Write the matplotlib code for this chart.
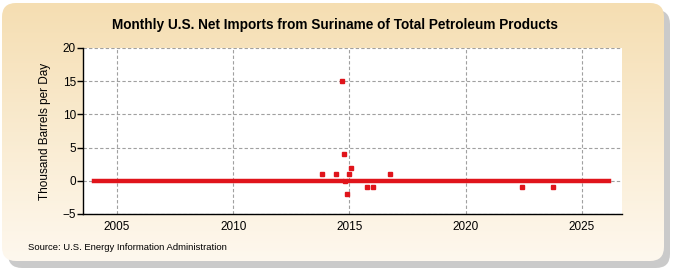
import numpy as np
import pandas as pd
import matplotlib
matplotlib.use("Agg")
import matplotlib.pyplot as plt
from matplotlib.patches import FancyBboxPatch

# ── DATA ────────────────────────────────────────────────────────────────
start_month = "2004-01"
end_month = "2026-03"
# months that differ from zero (thousand barrels per day)
spike_months = ["2013-11", "2014-06", "2014-09", "2014-10", "2014-12", "2015-01",
                "2015-02", "2015-10", "2016-01", "2016-10", "2022-06", "2023-10"]
spike_values = [1, 1, 15, 4, -2, 1, 2, -1, -1, 1, -1, -1]
# the zero line is broken over these months in the source chart
line_gap_months = ["2014-10", "2014-11", "2014-12"]
# isolated zero reading shown as a single marker
lone_zero_months = ["2014-11"]

x_ticks = [2005, 2010, 2015, 2020, 2025]
y_ticks = [-5, 0, 5, 10, 15, 20]

title = "Monthly U.S. Net Imports from Suriname of Total Petroleum Products"
ylabel = "Thousand Barrels per Day"
source = "Source: U.S. Energy Information Administration"
# ────────────────────────────────────────────────────────────────────────

months = pd.date_range(start_month, end_month, freq="MS")
values = pd.Series(0.0, index=months)
values[pd.to_datetime(spike_months)] = spike_values
xdec = np.asarray(months.year + (months.month - 1) / 12.0)

line_vals = pd.Series(0.0, index=months)
line_vals[pd.to_datetime(line_gap_months)] = np.nan

marked = months.isin(pd.to_datetime(spike_months)) | months.isin(pd.to_datetime(lone_zero_months))

plt.rcParams["font.family"] = ["Liberation Sans", "DejaVu Sans"]

RED = "#e0141b"
fig = plt.figure(figsize=(6.75, 2.75), dpi=100)

# background panel with shadow and gradient
bg = fig.add_axes([0, 0, 1, 1], zorder=-10)
bg.set_xlim(0, 675)
bg.set_ylim(275, 0)
bg.axis("off")
shadow = FancyBboxPatch((8, 10), 662, 258, boxstyle="round,pad=0,rounding_size=14",
                        fc="#a8a8a8", ec="none", alpha=0.6)
bg.add_patch(shadow)
panel = FancyBboxPatch((2, 3), 662, 258, boxstyle="round,pad=0,rounding_size=14",
                       fc="none", ec="none")
bg.add_patch(panel)
grad = np.linspace(0, 1, 256).reshape(-1, 1)
top_c = np.array([245, 222, 178]) / 255
bot_c = np.array([254, 248, 238]) / 255
img = top_c[None, None, :] * (1 - grad[:, :, None]) + bot_c[None, None, :] * grad[:, :, None]
im = bg.imshow(img, extent=[2, 664, 261, 3], aspect="auto", zorder=1)
im.set_clip_path(panel)

ax = fig.add_axes([83 / 675, 1 - 214 / 275, (622 - 83) / 675, (214 - 48) / 275])
ax.set_facecolor("white")

ax.plot(xdec, line_vals.values, color=RED, lw=3.2, solid_capstyle="projecting", zorder=3)
ax.plot(xdec[marked], values.values[marked], ls="none", marker="s", ms=3.4,
        color=RED, mec=RED, zorder=4)

ax.set_xlim(2003.54, 2026.73)
ax.set_ylim(-5, 20)
ax.set_xticks(x_ticks)
ax.set_yticks(y_ticks)
ax.grid(True, color="#a0a0a0", ls=(0, (3, 2)), lw=0.8)
ax.set_axisbelow(True)
for s in ("top", "right"):
    ax.spines[s].set_visible(False)
ax.spines["left"].set_linewidth(1.0)
ax.spines["bottom"].set_linewidth(1.0)
ax.tick_params(axis="y", length=4, width=1, labelsize=8.5, pad=1)
ax.tick_params(axis="x", length=0, labelsize=8.5, pad=5)
ax.set_ylabel(ylabel, fontsize=8.5, labelpad=8)

fig.text(335 / 675, 1 - 25 / 275, title, ha="center", va="center",
         fontsize=9.8, fontweight="bold")
fig.text(28 / 675, 1 - 248 / 275, source, ha="left", va="center", fontsize=6.8)

fig.savefig("out.png", dpi=100)
